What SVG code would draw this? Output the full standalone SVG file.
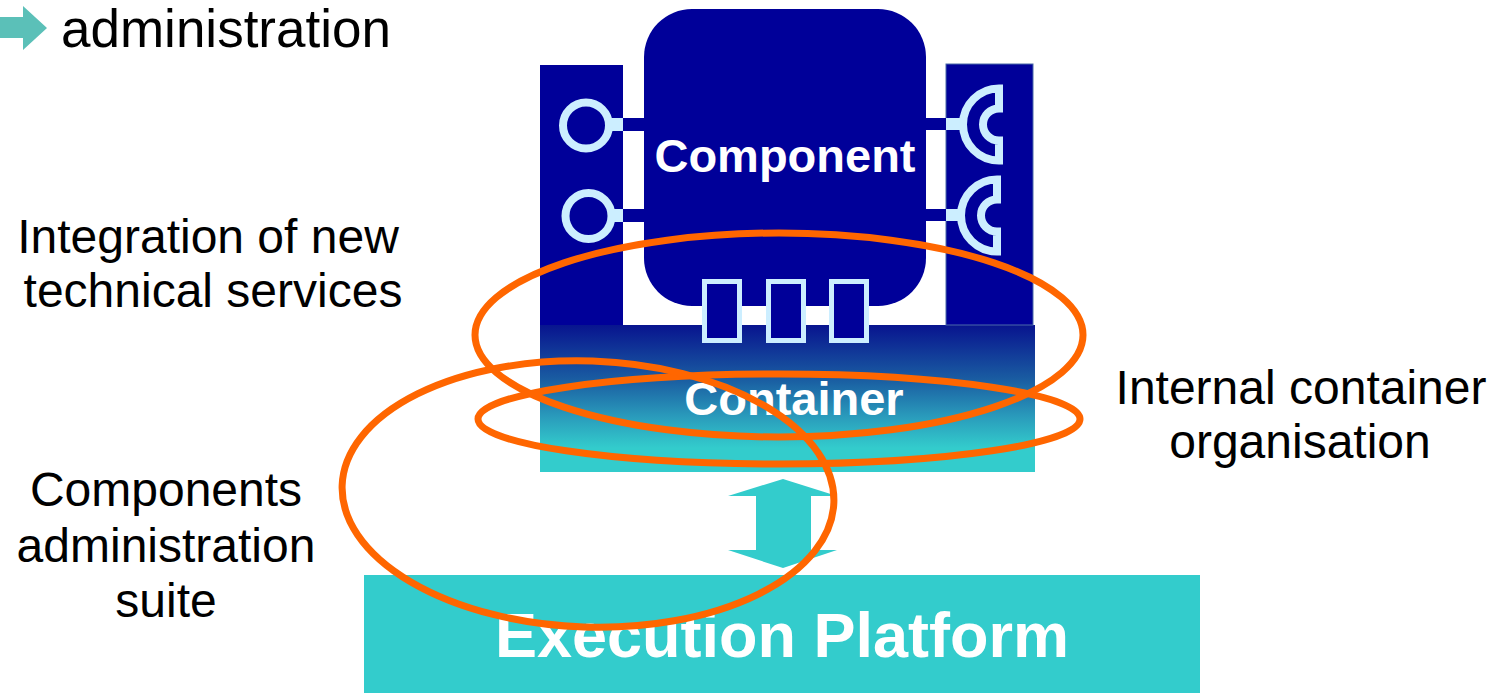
<svg xmlns="http://www.w3.org/2000/svg" width="1492" height="693" viewBox="0 0 1492 693">
  <defs>
    <linearGradient id="containerFill" x1="0" y1="325" x2="0" y2="448" gradientUnits="userSpaceOnUse">
      <stop offset="0" stop-color="#08148f"/>
      <stop offset="0.45" stop-color="#1a5ea2"/>
      <stop offset="0.75" stop-color="#2a9cbc"/>
      <stop offset="1" stop-color="#33cccc"/>
    </linearGradient>
  </defs>
  <style>
    .dark { fill: #000099; }
    .port { fill: #000099; stroke: #cceeff; stroke-width: 8; }
    .stub { fill: #cceeff; }
    .slot { fill: #000099; stroke: #cceeff; stroke-width: 5; }
    .teal { fill: #33cccc; }
    .label { font-family: "Liberation Sans", Arial, sans-serif; font-size: 48px; fill: #000000; text-anchor: middle; }
    .title { font-family: "Liberation Sans", Arial, sans-serif; font-weight: bold; fill: #ffffff; text-anchor: middle; }
    .ring { fill: none; stroke: #ff6600; stroke-width: 7; }
  </style>

  <rect width="1492" height="693" fill="#ffffff"/>

  <!-- heading -->
  <g id="heading">
    <polygon points="0,17 23,17 23,6 47,28 23,50 23,38 0,38" fill="#5bc0b8"/>
    <text x="61" y="47" font-family="Liberation Sans, Arial, sans-serif" font-size="53" fill="#000000">administration</text>
  </g>

  <!-- container with side panels -->
  <g id="container">
    <rect x="540" y="325" width="495" height="147" fill="url(#containerFill)"/>
    <rect x="540" y="65" width="83" height="260" class="dark"/>
    <rect x="946" y="64" width="87" height="261" class="dark" stroke="#4a6aa8" stroke-width="1"/>
    <text x="794" y="415" class="title" font-size="47">Container</text>
  </g>

  <!-- component with its ports -->
  <g id="component">
    <rect x="644" y="9" width="282" height="297" rx="48" ry="48" class="dark"/>
    <text x="785" y="172" class="title" font-size="47">Component</text>
    <!-- provided interfaces (left) -->
    <rect x="623" y="118" width="21" height="13" class="dark"/>
    <rect x="608" y="118" width="15" height="13" class="stub"/>
    <circle cx="586" cy="125.5" r="23" class="port"/>
    <rect x="623" y="209" width="21" height="13" class="dark"/>
    <rect x="610" y="209" width="13" height="13" class="stub"/>
    <circle cx="588.5" cy="216" r="23" class="port"/>
    <!-- required interfaces (right) -->
    <rect x="926" y="118" width="20" height="12" class="dark"/>
    <rect x="946" y="118" width="18" height="12" class="stub"/>
    <path d="M999,88.5 A36,36 0 0 0 999,160.5 L999,140.5 A16,16 0 0 1 999,108.5 Z" class="port"/>
    <rect x="926" y="209" width="20" height="12" class="dark"/>
    <rect x="946" y="209" width="16" height="12" class="stub"/>
    <path d="M997,179.5 A36,36 0 0 0 997,251.5 L997,231.5 A16,16 0 0 1 997,199.5 Z" class="port"/>
    <!-- bottom slots -->
    <rect x="704.5" y="281.5" width="35" height="59" class="slot"/>
    <rect x="768.5" y="281.5" width="35" height="59" class="slot"/>
    <rect x="831.5" y="281.5" width="35" height="59" class="slot"/>
  </g>

  <!-- execution platform -->
  <g id="execution-platform">
    <rect x="364" y="575" width="836" height="118" class="teal"/>
    <text x="782" y="657" class="title" font-size="63">Execution Platform</text>
  </g>

  <!-- connectors -->
  <g id="connectors">
    <polygon points="783,479 837,496 811,496 811,550 837,550 783,568 728,550 756,550 756,496 728,496" class="teal"/>
  </g>

  <!-- side labels -->
  <g id="label-integration">
    <text x="208" y="253" class="label">Integration of new</text>
    <text x="213" y="307" class="label">technical services</text>
  </g>
  <g id="label-internal">
    <text x="1301" y="404" class="label">Internal container</text>
    <text x="1300" y="458" class="label">organisation</text>
  </g>
  <g id="label-admin">
    <text x="166" y="506" class="label">Components</text>
    <text x="166" y="562" class="label">administration</text>
    <text x="166" y="617" class="label">suite</text>
  </g>

  <!-- concern rings -->
  <g id="rings">
    <ellipse cx="779" cy="335" rx="304" ry="102" class="ring"/>
    <ellipse cx="779" cy="419" rx="301" ry="45" class="ring"/>
    <ellipse cx="588" cy="494" rx="246" ry="133" class="ring" transform="rotate(2 588 494)"/>
  </g>
</svg>
